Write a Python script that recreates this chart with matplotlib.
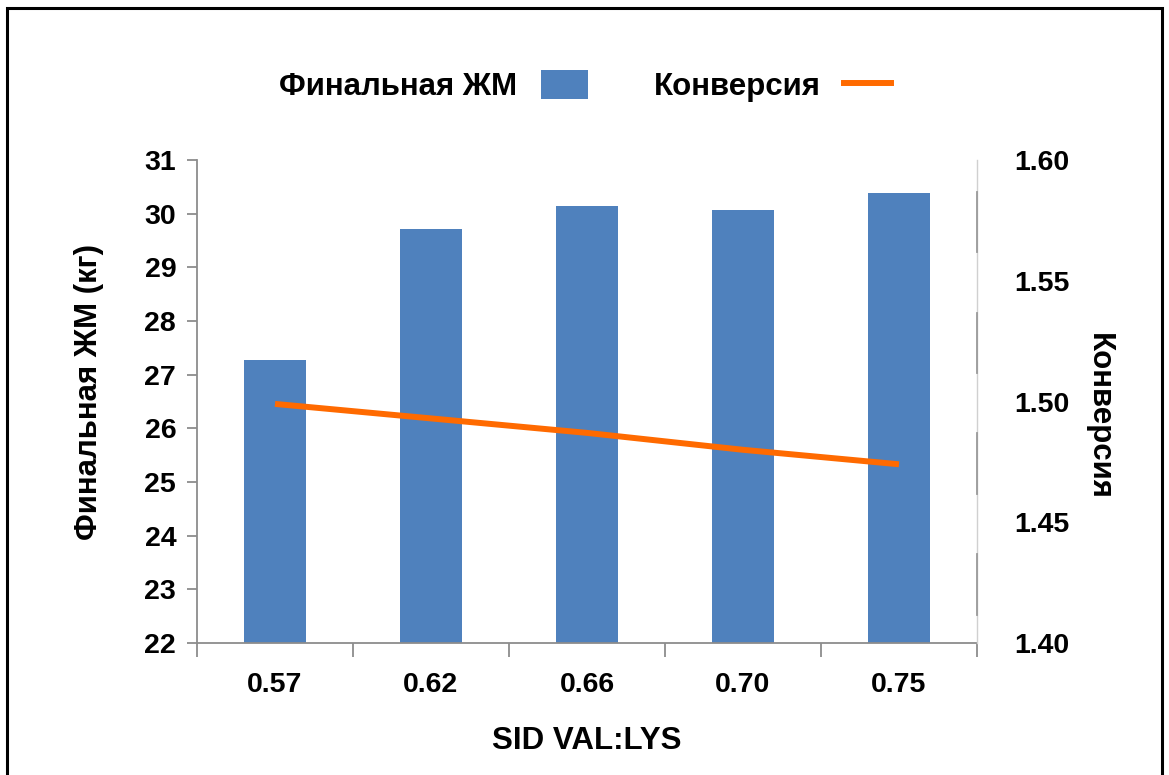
import matplotlib
matplotlib.use("Agg")
import matplotlib.pyplot as plt
from matplotlib.patches import Rectangle, Patch
from matplotlib.lines import Line2D
import numpy as np

categories = ["0.57", "0.62", "0.66", "0.70", "0.75"]
final_bw = [27.28, 29.71, 30.14, 30.07, 30.38]
conversion = [1.499, 1.493, 1.487, 1.480, 1.474]
left_ticks = [22, 23, 24, 25, 26, 27, 28, 29, 30, 31]
right_ticks = [1.40, 1.45, 1.50, 1.55, 1.60]

plt.rcParams['font.family'] = ['Liberation Sans', 'DejaVu Sans']
plt.rcParams['font.weight'] = 'bold'

W, H = 1169, 775
fig = plt.figure(figsize=(W / 100, H / 100), dpi=100)
ax = fig.add_axes([197 / W, 1 - 643 / H, (977 - 197) / W, (643 - 160) / H])
ax2 = ax.twinx()

x = np.arange(len(categories))
bar_color = '#4F81BD'
line_color = '#FF6A00'
gray = '#8C8C8C'
TICK_FS = 20.5
LAB_FS = 22.5

ax.bar(x, [v - 22 for v in final_bw], bottom=22, width=0.40, color=bar_color, zorder=2)
ax2.plot(x, conversion, color=line_color, lw=4.3, solid_capstyle='butt', zorder=3)

ax.set_xlim(-0.5, len(categories) - 0.5)
ax.set_ylim(22, 31)
ax.set_yticks(left_ticks)
ax.set_yticklabels([str(t) for t in left_ticks], fontsize=TICK_FS, fontweight='bold')
ax.tick_params(axis='y', direction='out', length=7, width=1.3, color=gray, pad=8)

ax.set_xticks(x)
ax.set_xticklabels(categories, fontsize=TICK_FS, fontweight='bold')
ax.tick_params(axis='x', which='major', length=0, pad=21)
ax.set_xticks(np.arange(-0.5, len(categories), 1.0), minor=True)
ax.tick_params(axis='x', which='minor', direction='out', length=10, width=1.3, color=gray)

ax2.set_ylim(1.40, 1.60)
ax2.set_yticks(right_ticks)
ax2.set_yticklabels([f"{t:.2f}" for t in right_ticks], fontsize=TICK_FS, fontweight='bold')
ax2.tick_params(axis='y', length=0, pad=27)

for a in (ax, ax2):
    a.spines['top'].set_visible(False)
ax.spines['right'].set_visible(False)
ax2.spines['left'].set_visible(False)
ax2.spines['bottom'].set_visible(False)
ax.spines['left'].set_color(gray)
ax.spines['left'].set_linewidth(1.3)
ax.spines['bottom'].set_color(gray)
ax.spines['bottom'].set_linewidth(1.3)
ax2.spines['right'].set_color('#D0D0D0')
ax2.spines['right'].set_linewidth(1.0)
# darker segments on the right axis between labels
for k in range(4):
    top = 1 - 0.066 - 0.25 * k
    ax2.plot([1, 1], [top, top - 0.125], transform=ax2.transAxes, color='#9A9A9A',
             lw=1.3, clip_on=False, zorder=4)

ax.set_xlabel("SID VAL:LYS", fontsize=LAB_FS, fontweight='bold', labelpad=20)
ax.set_ylabel("Финальная ЖМ (кг)", fontsize=LAB_FS, fontweight='bold')
ax.yaxis.set_label_coords(-0.119, 0.52)
ax2.set_ylabel("Конверсия", fontsize=LAB_FS, fontweight='bold', rotation=270)
ax2.yaxis.set_label_coords(1.175, 0.47)

handles = [Patch(facecolor=bar_color, edgecolor='none'),
           Line2D([0], [0], color=line_color, lw=4.3)]
leg = fig.legend(handles, ["Финальная ЖМ", "Конверсия"], loc='center',
                 bbox_to_anchor=(585 / W, 1 - 86 / H), ncol=2, frameon=False,
                 markerfirst=False, prop={'size': LAB_FS, 'weight': 'bold'},
                 handlelength=1.5, handleheight=1.05, handletextpad=0.75,
                 columnspacing=2.1)

fig.patches.append(Rectangle((6.5 / W, -0.05), (1162 - 6.5) / W, 1.05 - 7.5 / H,
                             transform=fig.transFigure, fill=False,
                             edgecolor='black', lw=2.2))

fig.savefig("out.png", dpi=100)
